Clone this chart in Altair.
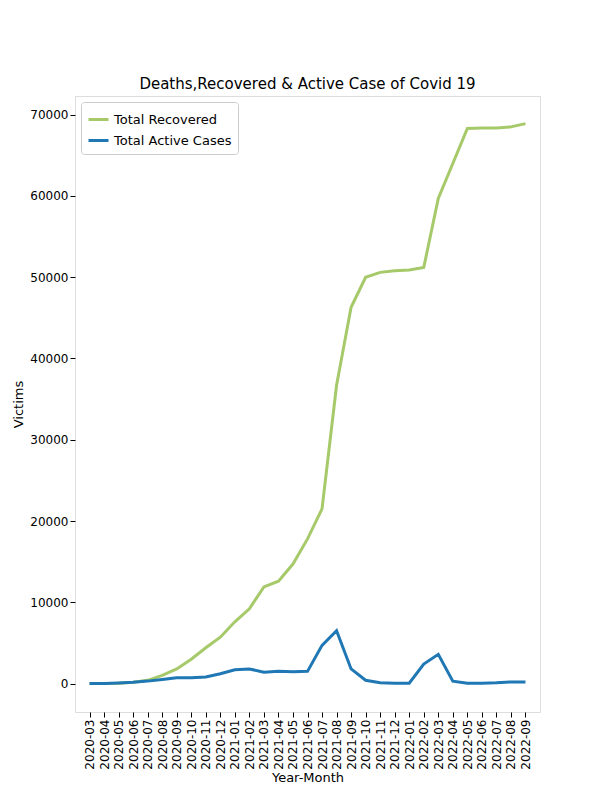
import pandas as pd
import altair as alt

months = ["2020-03", "2020-04", "2020-05", "2020-06", "2020-07", "2020-08", "2020-09",
          "2020-10", "2020-11", "2020-12", "2021-01", "2021-02", "2021-03", "2021-04",
          "2021-05", "2021-06", "2021-07", "2021-08", "2021-09", "2021-10", "2021-11",
          "2021-12", "2022-01", "2022-02", "2022-03", "2022-04", "2022-05", "2022-06",
          "2022-07", "2022-08", "2022-09"]
recovered = [0, 0, 50, 150, 400, 1000, 1800, 3000, 4400, 5700, 7600, 9200, 11900, 12600,
             14700, 17800, 21500, 36700, 46300, 50000, 50600, 50800, 50900, 51200, 59700,
             64000, 68300, 68350, 68350, 68500, 68900]
active = [0, 0, 80, 150, 300, 500, 700, 700, 800, 1200, 1700, 1800, 1400, 1500, 1450, 1500,
          4700, 6500, 1800, 400, 100, 50, 50, 2400, 3600, 300, 50, 50, 100, 200, 200]

df = pd.concat([
    pd.DataFrame({"month": months, "value": recovered, "series": "Total Recovered"}),
    pd.DataFrame({"month": months, "value": active, "series": "Total Active Cases"}),
])

chart = alt.Chart(df).mark_line(strokeWidth=3).encode(
    x=alt.X("month:O", title="Year-Month", sort=months,
            scale=alt.Scale(type="point", padding=1.25),
            axis=alt.Axis(labelAngle=-90, labelColor="black", titleFontWeight="normal",
                          titleFontSize=13, labelFontSize=12, domain=False, tickColor="black",
                          titlePadding=2)),
    y=alt.Y("value:Q", title="Victims",
            scale=alt.Scale(domain=[-3500, 72300], nice=False, zero=False),
            axis=alt.Axis(values=list(range(0, 70001, 10000)), grid=False, domain=False,
                          format="d", titleFontWeight="normal", titleFontSize=13,
                          labelFontSize=12, labelColor="black", tickColor="black")),
    color=alt.Color("series:N", sort=["Total Recovered", "Total Active Cases"],
                    scale=alt.Scale(domain=["Total Recovered", "Total Active Cases"],
                                    range=["#a6c96a", "#1f77b4"]),
                    legend=alt.Legend(title=None, orient="top-left", symbolType="stroke",
                                      symbolStrokeWidth=3, symbolSize=400, labelFontSize=13,
                                      strokeColor="#cccccc", fillColor="white", padding=6,
                                      cornerRadius=3, offset=6)),
).properties(
    width=465, height=616,
    title=alt.Title("Deaths,Recovered & Active Case of Covid 19", fontSize=15,
                    fontWeight="normal"),
    autosize=alt.AutoSizeParams(type="none"),
    padding={"left": 67, "top": 88, "right": 50, "bottom": 80},
).configure_view(stroke="black", strokeWidth=1).configure(font="DejaVu Sans")

chart.save("out.html", embed_options={"renderer": "svg", "actions": False})
